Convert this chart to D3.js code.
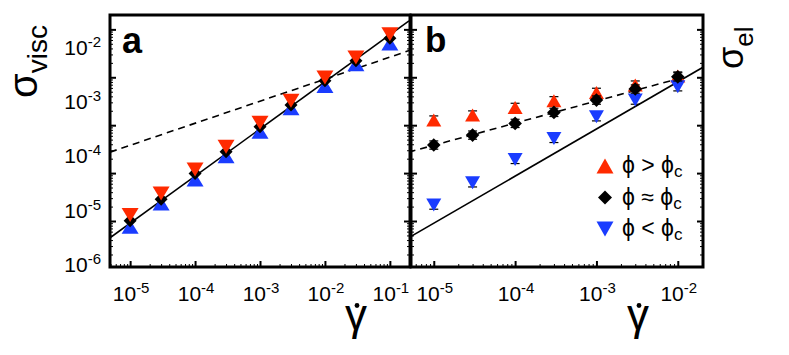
<!DOCTYPE html>
<html>
<head>
<meta charset="utf-8">
<script src="https://cdn.jsdelivr.net/npm/d3@7"></script>
<style>
  body { margin: 0; background: #fff; }
  text { font-family: "Liberation Sans", Arial, sans-serif; fill: #000; }
</style>
</head>
<body>
<div id="chart"></div>
<script>
// shear rates
var rateA = [1e-5, 3e-5, 1e-4, 3e-4, 1e-3, 3e-3, 1e-2, 3e-2, 1e-1];
var rateB = [1e-5, 3e-5, 1e-4, 3e-4, 1e-3, 3e-3, 1e-2];

// panel a : viscous stress
var viscRed   = [1.33e-6, 3.77e-6, 1.19e-5, 3.54e-5, 1.12e-4, 3.23e-4, 9.95e-4, 2.60e-3, 7.87e-3];
var viscBlack = [1.01e-6, 2.86e-6, 9.86e-6, 2.79e-5, 9.27e-5, 2.63e-4, 8.45e-4, 2.21e-3, 6.49e-3];
var viscBlue  = [7.57e-7, 2.33e-6, 7.38e-6, 2.26e-5, 7.28e-5, 2.25e-4, 6.55e-4, 1.86e-3, 5.10e-3];

// panel b : elastic stress
var elRed   = [1.28e-4, 1.63e-4, 2.35e-4, 3.23e-4, 4.84e-4, 6.87e-4, 1.06e-3];
var elBlack = [3.85e-5, 6.21e-5, 1.09e-4, 1.85e-4, 3.34e-4, 5.68e-4, 1.02e-3];
var elBlue  = [2.15e-6, 6.27e-6, 1.93e-5, 5.30e-5, 1.50e-4, 3.34e-4, 6.34e-4];
var elErr = 1.22; // error bars, as a factor up and down

// guide lines, end points [rate, stress]
var solidLine = [[4.9e-6, 4.45e-7], [0.197, 1.51e-2]];
var dashedA   = [[4.9e-6, 2.74e-5], [0.204, 3.66e-3]];
var dashedB   = [[4.9e-6, 2.74e-5], [1.1e-2, 9.7e-4]];

// ticks
var xMajorA = [1e-5, 1e-4, 1e-3, 1e-2, 1e-1];
var xMajorB = [1e-5, 1e-4, 1e-3, 1e-2];
var yMajor  = [1e-6, 1e-5, 1e-4, 1e-3, 1e-2];

var legendLabels = ["ϕ > ϕ", "ϕ ≈ ϕ", "ϕ < ϕ"];

var RED = "#ff2a00", BLUE = "#1a3cff";

var svg = d3.select("#chart").append("svg")
    .attr("width", 789)
    .attr("height", 355);

var y = d3.scaleLog().domain([Math.pow(10, -6.96), Math.pow(10, -1.70)]).range([267, 15]);
// the y tick labels in the original sit lower than their ticks, keep them there
var yLab = d3.scaleLog().domain([1e-6, 1e-2]).range([265, 47.8]);

var xA = d3.scaleLog().domain([Math.pow(10, -5.31), Math.pow(10, -0.69)]).range([110, 410]);
var xB = d3.scaleLog().domain([Math.pow(10, -5.28), Math.pow(10, -1.69)]).range([411, 703]);

function isDecade(v) {
    var l = Math.log10(v);
    return Math.abs(l - Math.round(l)) < 1e-6;
}

function triPath(w, h, up) {
    var s = up ? 1 : -1;
    return "M0," + (-s * h / 2) + "L" + (w / 2) + "," + (s * h / 2) + "L" + (-w / 2) + "," + (s * h / 2) + "Z";
}
function diamondPath(r) {
    return "M0," + (-r) + "L" + r + ",0L0," + r + "L" + (-r) + ",0Z";
}

// tick label "10^n" with a raised exponent
function powLabel(g, v, px, py, anchor) {
    var t = g.append("text")
        .attr("x", px).attr("y", py)
        .attr("text-anchor", anchor)
        .style("font-size", "21px");
    t.append("tspan").text("10");
    t.append("tspan")
        .attr("dy", -8)
        .style("font-size", "15px")
        .text(Math.round(Math.log10(v)));
}

function drawTicks(g, axis, scale, major, transform) {
    var minor = scale.ticks().filter(function (v) { return !isDecade(v); });
    g.append("g").attr("transform", transform)
        .call(axis(scale).tickValues(minor).tickSize(3).tickFormat(""))
        .call(function (s) { s.select(".domain").remove(); })
        .selectAll("line").attr("stroke-width", 1);
    g.append("g").attr("transform", transform)
        .call(axis(scale).tickValues(major).tickSize(6).tickFormat(""))
        .call(function (s) { s.select(".domain").remove(); })
        .selectAll("line").attr("stroke-width", 2);
}

function drawPanel(id, x, major, left, right, series, dashed, errors) {
    var g = svg.append("g");

    // clip the guide lines to the frame
    g.append("clipPath").attr("id", "clip" + id)
        .append("rect")
        .attr("x", left).attr("y", y.range()[1])
        .attr("width", right - left).attr("height", y.range()[0] - y.range()[1]);

    var line = d3.line()
        .x(function (d) { return x(d[0]); })
        .y(function (d) { return y(d[1]); });

    g.append("path")
        .attr("d", line(solidLine))
        .attr("clip-path", "url(#clip" + id + ")")
        .attr("fill", "none").attr("stroke", "#000").attr("stroke-width", 1.6);
    g.append("path")
        .attr("d", line(dashed))
        .attr("clip-path", "url(#clip" + id + ")")
        .attr("fill", "none").attr("stroke", "#000").attr("stroke-width", 1.6)
        .attr("stroke-dasharray", "7,5");

    series.forEach(function (s) {
        var pts = s.values.map(function (v, i) { return [s.rate[i], v]; });
        if (errors) {
            var eb = g.append("g").attr("stroke", "#000").attr("stroke-width", 1.2);
            pts.forEach(function (p) {
                var cx = x(p[0]), y0 = y(p[1] / elErr), y1 = y(p[1] * elErr);
                eb.append("line").attr("x1", cx).attr("x2", cx).attr("y1", y0).attr("y2", y1);
                eb.append("line").attr("x1", cx - 4.5).attr("x2", cx + 4.5).attr("y1", y0).attr("y2", y0);
                eb.append("line").attr("x1", cx - 4.5).attr("x2", cx + 4.5).attr("y1", y1).attr("y2", y1);
            });
        }
        g.selectAll(null)
            .data(pts)
            .enter()
            .append("path")
            .attr("d", s.shape)
            .attr("transform", function (d) { return "translate(" + x(d[0]) + "," + y(d[1]) + ")"; })
            .attr("fill", s.color);
    });

    // frame
    g.append("rect")
        .attr("x", left).attr("y", 15)
        .attr("width", right - left).attr("height", 252)
        .attr("fill", "none").attr("stroke", "#000").attr("stroke-width", 3);

    // ticks, pointing inward
    drawTicks(g, d3.axisTop, x, major, "translate(0,267)");
    drawTicks(g, d3.axisRight, y, yMajor, "translate(" + left + ",0)");
    drawTicks(g, d3.axisLeft, y, yMajor, "translate(" + right + ",0)");

    major.forEach(function (v) { powLabel(g, v, x(v) + 1, 301, "middle"); });
    return g;
}

var gA = drawPanel("a", xA, xMajorA, 110, 410, [
    { rate: rateA, values: viscBlue,  color: BLUE,   shape: triPath(17, 14, true) },
    { rate: rateA, values: viscBlack, color: "#000", shape: diamondPath(6.5) },
    { rate: rateA, values: viscRed,   color: RED,    shape: triPath(17, 14, false) }
], dashedA, false);

var gB = drawPanel("b", xB, xMajorB, 411, 703, [
    { rate: rateB, values: elRed,   color: RED,    shape: triPath(15, 13, true) },
    { rate: rateB, values: elBlue,  color: BLUE,   shape: triPath(15, 13, false) },
    { rate: rateB, values: elBlack, color: "#000", shape: diamondPath(6.8) }
], dashedB, true);

// y tick labels
yMajor.forEach(function (v) { powLabel(svg, v, 101, yLab(v) + 7, "end"); });

// panel letters
svg.append("text").attr("x", 122).attr("y", 53)
    .style("font-size", "36px").style("font-weight", "bold").text("a");
svg.append("text").attr("x", 425).attr("y", 52)
    .style("font-size", "35px").style("font-weight", "bold").text("b");

// axis titles
function gammaDot(cx) {
    svg.append("text").attr("x", cx).attr("y", 330)
        .attr("text-anchor", "middle").style("font-size", "44px").text("γ");
    svg.append("circle").attr("cx", cx + 1).attr("cy", 305.5).attr("r", 2.4).attr("fill", "#000");
}
gammaDot(356);
gammaDot(638);

var tl = svg.append("text")
    .attr("transform", "translate(37,98) rotate(-90)")
    .style("font-size", "40px");
tl.append("tspan").text("σ");
tl.append("tspan").attr("dy", 10).style("font-size", "28px").text("visc");

var tr = svg.append("text")
    .attr("transform", "translate(743,69) rotate(-90)")
    .style("font-size", "36px");
tr.append("tspan").text("σ");
tr.append("tspan").attr("dy", 10).style("font-size", "26px").text("el");

// legend
var legShapes = [
    { shape: triPath(17, 15, true), color: RED },
    { shape: diamondPath(7), color: "#000" },
    { shape: triPath(17, 15, false), color: BLUE }
];
var legY = d3.scalePoint().domain(legendLabels).range([166, 229]);
legendLabels.forEach(function (lab, i) {
    svg.append("path")
        .attr("d", legShapes[i].shape)
        .attr("transform", "translate(605," + legY(lab) + ")")
        .attr("fill", legShapes[i].color);
    var t = svg.append("text")
        .attr("x", 622).attr("y", legY(lab) + 7)
        .style("font-size", "23px");
    t.append("tspan").text(lab);
    t.append("tspan").attr("dy", 4).style("font-size", "17px").text("c");
});
</script>
</body>
</html>
